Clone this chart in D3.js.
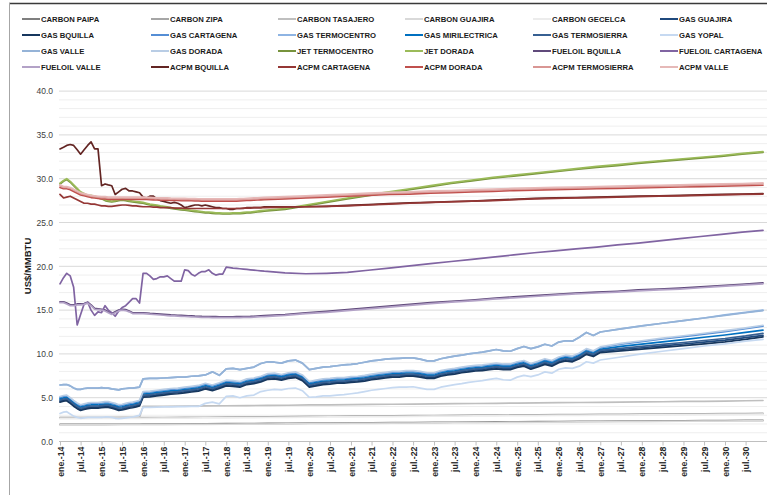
<!DOCTYPE html>
<html><head><meta charset="utf-8">
<script src="https://cdn.jsdelivr.net/npm/d3@7"></script>
<style>
body{margin:0;background:#fff}
svg{display:block}
text{font-family:"Liberation Sans",Arial,sans-serif}
</style></head>
<body><svg id="c" width="767" height="495"></svg>
<script>
// ---------- categories (months since ene-14) ----------
const START = new Date(2014, 0, 1);
const gridM = d3.range(0, 60).concat(d3.range(65, 204, 6));            // monthly 2014-2018, then semiannual
const gridB = d3.range(0, 24).concat(d3.range(24, 157, 2), [162,168,174,180,186,192,198,203]); // gas series
const gridC = [0,6,12,18,23].concat(d3.range(24, 204, 6), [203]);      // carbon series
const tickMonths = d3.range(0, 204, 6);
const tickLabels = ["ene.-14","jul.-14","ene.-15","jul.-15","ene.-16","jul.-16","ene.-17","jul.-17","ene.-18","jul.-18",
"ene.-19","jul.-19","ene.-20","jul.-20","ene.-21","jul.-21","ene.-22","jul.-22","ene.-23","jul.-23","ene.-24","jul.-24",
"ene.-25","jul.-25","ene.-26","jul.-26","ene.-27","jul.-27","ene.-28","jul.-28","ene.-29","jul.-29","ene.-30","jul.-30"];
const yTicks = [0,5,10,15,20,25,30,35,40];

// ---------- series values ----------
const CARBON_PAIPA = [1.95,1.95,1.96,1.97,1.97,1.98,1.99,2.0,2.02,2.03,2.05,2.06,2.08,2.1,2.11,2.13,2.14,2.16,2.17,2.19,2.2,2.22,2.23,2.25,2.26,2.28,2.29,2.31,2.32,2.34,2.35,2.37,2.38,2.4,2.41,2.42];
const CARBON_ZIPA = [2.7,2.7,2.71,2.72,2.72,2.73,2.74,2.75,2.77,2.78,2.8,2.82,2.84,2.86,2.88,2.9,2.92,2.93,2.95,2.97,2.98,3.0,3.01,3.03,3.04,3.06,3.07,3.09,3.1,3.12,3.13,3.15,3.16,3.18,3.19,3.2];
const CARBON_TASAJERO = [2.75,2.75,2.76,2.77,2.77,4.0,4.02,4.04,4.06,4.08,4.1,4.12,4.14,4.17,4.19,4.21,4.23,4.25,4.27,4.3,4.32,4.34,4.36,4.38,4.41,4.43,4.45,4.47,4.5,4.52,4.54,4.57,4.59,4.62,4.65,4.68];
const CARBON_GUAJIRA = [1.89,1.89,1.9,1.91,1.91,1.92,1.93,1.94,1.96,1.97,1.99,2.0,2.02,2.04,2.05,2.07,2.08,2.1,2.11,2.13,2.14,2.16,2.17,2.19,2.2,2.22,2.23,2.25,2.26,2.28,2.29,2.31,2.32,2.34,2.35,2.36];
const CARBON_GECELCA = [2.62,2.62,2.63,2.64,2.64,2.65,2.66,2.67,2.69,2.7,2.72,2.74,2.76,2.78,2.8,2.82,2.84,2.85,2.87,2.89,2.9,2.92,2.93,2.95,2.96,2.98,2.99,3.01,3.02,3.04,3.05,3.07,3.08,3.1,3.11,3.12];

const GAS_GUAJIRA = [4.62,4.73,4.78,4.48,4.16,3.88,3.68,3.78,3.88,3.93,3.93,3.93,3.98,4.03,4.03,3.93,3.83,3.68,3.73,3.83,3.93,3.98,4.08,4.18,
5.18,5.23,5.33,5.43,5.53,5.58,5.68,5.78,5.88,6.13,5.93,6.18,6.48,6.43,6.33,6.63,6.73,6.93,7.23,7.28,
7.13,7.33,7.43,7.08,6.33,6.48,6.63,6.68,6.78,6.78,6.88,6.93,7.03,7.18,7.28,7.38,7.48,7.48,7.58,7.58,
7.48,7.33,7.33,7.58,7.73,7.83,7.98,8.08,8.18,8.23,8.33,8.43,8.33,8.33,8.58,8.73,8.38,8.63,8.93,8.73,
9.13,9.33,9.23,9.58,10.08,9.83,10.28,10.5,10.7,10.92,11.13,11.35,11.57,11.85,12.12];
const GAS_BQUILLA = [4.49,4.6,4.65,4.35,4.03,3.75,3.55,3.65,3.75,3.8,3.8,3.8,3.85,3.9,3.9,3.8,3.7,3.55,3.6,3.7,3.8,3.85,3.95,4.05,
5.05,5.1,5.2,5.3,5.4,5.45,5.55,5.65,5.75,6.0,5.8,6.05,6.35,6.3,6.2,6.5,6.6,6.8,7.1,7.15,
7.0,7.2,7.3,6.95,6.2,6.35,6.5,6.55,6.65,6.65,6.75,6.8,6.9,7.05,7.15,7.25,7.35,7.35,7.45,7.45,
7.35,7.2,7.2,7.45,7.6,7.7,7.85,7.95,8.05,8.1,8.2,8.3,8.2,8.2,8.45,8.6,8.25,8.5,8.8,8.6,
9.0,9.2,9.1,9.45,9.95,9.7,10.15,10.35,10.55,10.75,10.95,11.15,11.37,11.65,11.95];
const GAS_CARTAGENA = [5.04,5.15,5.2,4.9,4.58,4.3,4.1,4.2,4.3,4.35,4.35,4.35,4.4,4.45,4.45,4.35,4.25,4.1,4.15,4.25,4.35,4.4,4.5,4.6,
5.6,5.65,5.75,5.85,5.95,6.0,6.1,6.2,6.3,6.55,6.35,6.6,6.9,6.85,6.75,7.05,7.15,7.35,7.65,7.7,
7.55,7.75,7.85,7.5,6.75,6.9,7.05,7.1,7.2,7.2,7.3,7.35,7.45,7.6,7.7,7.8,7.9,7.9,8.0,8.0,
7.9,7.75,7.75,8.0,8.15,8.25,8.4,8.5,8.6,8.65,8.75,8.85,8.75,8.75,9.0,9.15,8.8,9.05,9.35,9.15,
9.55,9.75,9.65,10.0,10.5,10.25,10.7,11.1,11.4,11.7,11.97,12.26,12.55,12.88,13.17];
const GAS_TERMOCENTRO = [6.45,6.5,6.5,6.35,6.1,5.95,5.95,6.05,6.1,6.1,6.1,6.1,6.15,6.1,6.1,6.0,5.95,5.9,6.0,6.05,6.1,6.1,6.15,6.2,
7.15,7.2,7.2,7.25,7.3,7.35,7.35,7.45,7.5,7.6,7.95,7.55,8.3,8.35,8.2,8.35,8.5,8.9,9.1,9.05,
8.95,9.2,9.3,8.95,8.2,8.35,8.5,8.55,8.65,8.75,8.8,8.9,9.05,9.2,9.3,9.4,9.45,9.5,9.55,9.55,
9.4,9.2,9.2,9.45,9.6,9.75,9.85,10.0,10.1,10.2,10.35,10.5,10.35,10.3,10.6,10.85,10.6,10.8,11.1,10.9,
11.35,11.5,11.45,11.9,12.45,12.1,12.5,12.85,13.2,13.5,13.8,14.1,14.45,14.75,15.0];
const GAS_MIRILECTRICA = [4.86,4.97,5.02,4.72,4.4,4.12,3.92,4.02,4.12,4.17,4.17,4.17,4.22,4.27,4.27,4.17,4.07,3.92,3.97,4.07,4.17,4.22,4.32,4.42,
5.42,5.47,5.57,5.67,5.77,5.82,5.92,6.02,6.12,6.37,6.17,6.42,6.72,6.67,6.57,6.87,6.97,7.17,7.47,7.52,
7.37,7.57,7.67,7.32,6.57,6.72,6.87,6.92,7.02,7.02,7.12,7.17,7.27,7.42,7.52,7.62,7.72,7.72,7.82,7.82,
7.72,7.57,7.57,7.82,7.97,8.07,8.22,8.32,8.42,8.47,8.57,8.67,8.57,8.57,8.82,8.97,8.62,8.87,9.17,8.97,
9.37,9.57,9.47,9.82,10.32,10.07,10.52,10.85,11.12,11.38,11.64,11.9,12.16,12.46,12.72];
const GAS_TERMOSIERRA = [4.74,4.85,4.9,4.6,4.28,4.0,3.8,3.9,4.0,4.05,4.05,4.05,4.1,4.15,4.15,4.05,3.95,3.8,3.85,3.95,4.05,4.1,4.2,4.3,
5.3,5.35,5.45,5.55,5.65,5.7,5.8,5.9,6.0,6.25,6.05,6.3,6.6,6.55,6.45,6.75,6.85,7.05,7.35,7.4,
7.25,7.45,7.55,7.2,6.45,6.6,6.75,6.8,6.9,6.9,7.0,7.05,7.15,7.3,7.4,7.5,7.6,7.6,7.7,7.7,
7.6,7.45,7.45,7.7,7.85,7.95,8.1,8.2,8.3,8.35,8.45,8.55,8.45,8.45,8.7,8.85,8.5,8.75,9.05,8.85,
9.25,9.45,9.35,9.7,10.2,9.95,10.4,10.62,10.85,11.08,11.3,11.53,11.76,12.05,12.35];
const GAS_YOPAL = [3.2,3.35,3.4,3.15,2.9,2.75,2.65,2.7,2.75,2.75,2.75,2.75,2.75,2.8,2.8,2.75,2.65,2.6,2.65,2.7,2.75,2.8,2.9,3.0,
3.9,3.9,3.92,3.95,3.95,3.97,3.97,4.0,4.0,4.35,4.5,4.3,5.15,5.2,5.0,5.2,5.3,5.7,5.85,5.95,
5.9,6.05,6.1,5.8,5.05,5.1,5.2,5.2,5.3,5.35,5.45,5.55,5.7,5.85,5.95,6.05,6.15,6.2,6.2,6.25,
6.1,5.95,5.95,6.2,6.35,6.5,6.6,6.75,6.85,6.95,7.1,7.2,7.05,7.0,7.35,7.55,7.4,7.6,7.95,7.8,
8.25,8.4,8.35,8.6,9.1,8.95,9.3,9.65,10.0,10.3,10.6,10.9,11.15,11.45,11.65];
const GAS_VALLE = [6.45,6.5,6.5,6.35,6.1,5.95,5.95,6.05,6.1,6.1,6.1,6.1,6.15,6.1,6.1,6.0,5.95,5.9,6.0,6.05,6.1,6.1,6.15,6.2,
7.15,7.2,7.2,7.25,7.3,7.35,7.35,7.45,7.5,7.6,7.95,7.55,8.3,8.35,8.2,8.35,8.5,8.9,9.1,9.05,
8.95,9.2,9.3,8.95,8.2,8.35,8.5,8.55,8.65,8.75,8.8,8.9,9.05,9.2,9.3,9.4,9.45,9.5,9.55,9.55,
9.4,9.2,9.2,9.45,9.6,9.75,9.85,10.0,10.1,10.2,10.35,10.5,10.35,10.3,10.6,10.85,10.6,10.8,11.1,10.9,
11.35,11.5,11.45,11.9,12.45,12.1,12.5,12.85,13.2,13.5,13.8,14.1,14.4,14.7,14.95];
const GAS_DORADA = [5.14,5.25,5.3,5.0,4.68,4.4,4.2,4.3,4.4,4.45,4.45,4.45,4.5,4.55,4.55,4.45,4.35,4.2,4.25,4.35,4.45,4.5,4.6,4.7,
5.7,5.75,5.85,5.95,6.05,6.1,6.2,6.3,6.4,6.65,6.45,6.7,7.0,6.95,6.85,7.15,7.25,7.45,7.75,7.8,
7.65,7.85,7.95,7.6,6.85,7.0,7.15,7.2,7.3,7.3,7.4,7.45,7.55,7.7,7.8,7.9,8.0,8.0,8.1,8.1,
8.0,7.85,7.85,8.1,8.25,8.35,8.5,8.6,8.7,8.75,8.85,8.95,8.85,8.85,9.1,9.25,8.9,9.15,9.45,9.25,
9.65,9.85,9.75,10.1,10.6,10.35,10.8,11.2,11.5,11.8,12.07,12.36,12.65,12.98,13.27];

const JET_TERMOCENTRO = [29.4,29.7,29.9,29.6,29.2,28.8,28.4,28.2,28.0,28.0,27.9,27.8,27.7,27.5,27.4,27.35,27.4,27.5,27.55,27.5,27.4,27.35,27.3,27.25,
27.2,27.1,27.0,26.95,26.9,26.8,26.75,26.7,26.6,26.55,26.5,26.45,26.4,26.35,26.3,26.25,26.2,26.15,26.1,26.1,26.05,26.0,26.0,25.97,
25.97,25.97,26.0,26.0,26.0,26.05,26.1,26.1,26.15,26.2,26.25,26.3,
26.5,26.9,27.3,27.7,28.05,28.4,28.75,29.1,29.45,29.75,30.05,30.3,30.55,30.8,31.05,31.3,31.5,31.75,31.95,32.15,32.35,32.55,32.8,33.0];
const JET_DORADA = [29.5,29.8,30.0,29.7,29.3,28.9,28.5,28.3,28.1,28.1,28.0,27.9,27.8,27.6,27.5,27.45,27.5,27.6,27.65,27.6,27.5,27.45,27.4,27.35,
27.3,27.2,27.1,27.05,27.0,26.9,26.85,26.8,26.7,26.65,26.6,26.55,26.5,26.45,26.4,26.35,26.3,26.25,26.2,26.2,26.15,26.1,26.1,26.07,
26.07,26.07,26.1,26.1,26.1,26.15,26.2,26.2,26.25,26.3,26.35,26.4,
26.6,27.0,27.4,27.8,28.15,28.5,28.85,29.2,29.55,29.85,30.15,30.4,30.65,30.9,31.15,31.4,31.6,31.85,32.05,32.25,32.45,32.65,32.9,33.1];

const FUELOIL_BQUILLA = [15.95,15.95,15.8,15.6,15.6,15.7,15.7,15.75,15.9,15.6,15.2,15.15,15.1,15.0,14.8,14.6,14.8,15.0,15.1,15.05,14.9,14.7,14.7,14.7,
14.7,14.67,14.63,14.6,14.57,14.54,14.51,14.48,14.45,14.43,14.41,14.39,14.37,14.35,14.33,14.31,14.3,14.28,14.27,14.26,14.25,14.25,14.24,14.24,
14.24,14.24,14.24,14.25,14.25,14.26,14.27,14.28,14.3,14.32,14.34,14.36,
14.5,14.7,14.85,15.05,15.25,15.45,15.65,15.85,16.0,16.15,16.35,16.5,16.65,16.8,16.95,17.05,17.15,17.3,17.4,17.5,17.65,17.8,17.95,18.1];
const FUELOIL_CARTAGENA = [18.0,18.7,19.2,18.9,17.6,13.3,14.5,15.7,15.9,15.0,14.4,14.8,14.7,15.5,15.0,14.7,14.3,14.9,15.3,15.5,15.9,16.3,16.3,15.8,
19.2,19.2,18.9,18.5,18.6,18.8,18.8,18.9,18.6,18.3,18.3,18.3,19.6,19.5,19.1,18.9,19.2,19.4,19.4,19.6,19.2,19.0,19.1,19.1,
19.9,19.85,19.8,19.76,19.72,19.68,19.64,19.6,19.56,19.52,19.48,19.44,
19.25,19.15,19.2,19.3,19.55,19.8,20.05,20.3,20.55,20.8,21.05,21.3,21.55,21.75,22.0,22.2,22.45,22.65,22.9,23.15,23.4,23.65,23.9,24.1];
const FUELOIL_VALLE = [15.85,15.85,15.7,15.5,15.5,15.6,15.6,15.65,15.8,15.5,15.1,15.05,15.0,14.9,14.7,14.5,14.7,14.9,15.0,14.95,14.8,14.6,14.6,14.6,
14.6,14.57,14.53,14.5,14.47,14.44,14.41,14.38,14.35,14.33,14.31,14.29,14.27,14.25,14.23,14.21,14.2,14.18,14.17,14.16,14.15,14.15,14.14,14.14,
14.14,14.14,14.14,14.15,14.15,14.16,14.17,14.18,14.2,14.22,14.24,14.26,
14.4,14.6,14.75,14.95,15.15,15.35,15.55,15.75,15.9,16.05,16.25,16.4,16.55,16.7,16.85,16.95,17.05,17.2,17.3,17.4,17.55,17.7,17.85,18.0];

const ACPM_BQUILLA = [33.4,33.6,33.8,33.9,33.8,33.3,32.8,33.3,33.8,34.2,33.4,33.4,29.2,29.4,29.3,29.2,28.2,28.5,28.8,28.9,28.6,28.6,28.5,28.4,
27.9,27.8,28.0,28.0,27.7,27.5,27.4,27.3,27.2,27.3,27.2,27.0,26.7,26.8,26.9,27.0,27.0,26.9,27.0,26.9,26.8,26.7,26.7,26.6,
26.6,26.5,26.5,26.6,26.6,26.6,26.7,26.7,26.7,26.7,26.7,26.8,
26.8,26.8,26.85,26.95,27.05,27.15,27.25,27.3,27.4,27.45,27.55,27.65,27.75,27.8,27.85,27.9,27.95,28.0,28.05,28.1,28.15,28.2,28.25,28.3];
const ACPM_CARTAGENA = [28.2,27.8,27.9,28.0,27.8,27.6,27.4,27.2,27.2,27.1,27.1,27.0,26.9,26.9,26.85,26.85,26.9,26.95,27.0,27.0,26.95,26.9,26.9,26.85,
26.8,26.8,26.8,26.75,26.75,26.7,26.7,26.7,26.7,26.65,26.65,26.65,26.6,26.6,26.6,26.6,26.6,26.6,26.6,26.6,26.6,26.6,26.6,26.6,
26.6,26.6,26.6,26.6,26.6,26.65,26.65,26.65,26.7,26.7,26.7,26.7,
26.75,26.8,26.85,26.9,27.0,27.1,27.2,27.3,27.35,27.45,27.5,27.6,27.7,27.75,27.8,27.85,27.9,27.95,28.0,28.05,28.1,28.15,28.2,28.25];
const ACPM_DORADA = [29.0,28.85,28.85,28.75,28.55,28.35,28.15,28.05,27.95,27.85,27.8,27.75,27.7,27.7,27.65,27.65,27.65,27.65,27.65,27.65,27.65,27.65,27.65,27.65,
27.65,27.63,27.61,27.59,27.57,27.55,27.55,27.55,27.53,27.52,27.51,27.5,27.5,27.49,27.48,27.47,27.46,27.45,27.45,27.45,27.45,27.45,27.45,27.45,
27.45,27.45,27.45,27.45,27.47,27.49,27.51,27.53,27.55,27.57,27.59,27.61,
27.7,27.8,27.9,28.0,28.1,28.2,28.25,28.35,28.4,28.5,28.55,28.65,28.7,28.75,28.8,28.85,28.9,28.95,29.0,29.05,29.1,29.15,29.2,29.25];
const ACPM_TERMOSIERRA = [29.2,29.0,29.0,28.9,28.7,28.5,28.3,28.2,28.1,28.0,27.95,27.9,27.85,27.85,27.8,27.8,27.8,27.8,27.8,27.8,27.8,27.8,27.8,27.8,
27.8,27.78,27.76,27.74,27.72,27.7,27.7,27.7,27.68,27.67,27.66,27.65,27.65,27.64,27.63,27.62,27.61,27.6,27.6,27.6,27.6,27.6,27.6,27.6,
27.6,27.6,27.6,27.6,27.62,27.64,27.66,27.68,27.7,27.72,27.74,27.76,
27.85,27.95,28.05,28.15,28.25,28.35,28.4,28.5,28.55,28.65,28.7,28.8,28.85,28.9,28.95,29.0,29.05,29.1,29.15,29.2,29.25,29.3,29.35,29.4];
const ACPM_VALLE = [29.3,29.1,29.1,29.0,28.8,28.6,28.4,28.3,28.2,28.1,28.05,28.0,27.95,27.95,27.9,27.9,27.9,27.9,27.9,27.9,27.9,27.9,27.9,27.9,
27.9,27.88,27.86,27.84,27.82,27.8,27.8,27.8,27.78,27.77,27.76,27.75,27.75,27.74,27.73,27.72,27.71,27.7,27.7,27.7,27.7,27.7,27.7,27.7,
27.7,27.7,27.7,27.7,27.72,27.74,27.76,27.78,27.8,27.82,27.84,27.86,
27.95,28.05,28.15,28.25,28.35,28.45,28.5,28.6,28.65,28.75,28.8,28.9,28.95,29.0,29.05,29.1,29.15,29.2,29.25,29.3,29.35,29.4,29.45,29.52];

const seriesNames = ["CARBON PAIPA","CARBON ZIPA","CARBON TASAJERO","CARBON GUAJIRA","CARBON GECELCA","GAS GUAJIRA",
"GAS BQUILLA","GAS CARTAGENA","GAS TERMOCENTRO","GAS MIRILECTRICA","GAS TERMOSIERRA","GAS YOPAL",
"GAS VALLE","GAS DORADA","JET TERMOCENTRO","JET DORADA","FUELOIL BQUILLA","FUELOIL CARTAGENA",
"FUELOIL VALLE","ACPM BQUILLA","ACPM CARTAGENA","ACPM DORADA","ACPM TERMOSIERRA","ACPM VALLE"];
const seriesColors = ["#7f7f7f","#a6a6a6","#bfbfbf","#d9d9d9","#ececec","#1f497d",
"#17375e","#558ed5","#8eb4e3","#0070c0","#376092","#c6d9f1",
"#95b3d7","#b9cde5","#77933c","#9bbb59","#604a7b","#8064a2",
"#b3a2c7","#632523","#953735","#c0504d","#d99694","#e6b9b8"];
const seriesValues = [CARBON_PAIPA,CARBON_ZIPA,CARBON_TASAJERO,CARBON_GUAJIRA,CARBON_GECELCA,GAS_GUAJIRA,
GAS_BQUILLA,GAS_CARTAGENA,GAS_TERMOCENTRO,GAS_MIRILECTRICA,GAS_TERMOSIERRA,GAS_YOPAL,
GAS_VALLE,GAS_DORADA,JET_TERMOCENTRO,JET_DORADA,FUELOIL_BQUILLA,FUELOIL_CARTAGENA,
FUELOIL_VALLE,ACPM_BQUILLA,ACPM_CARTAGENA,ACPM_DORADA,ACPM_TERMOSIERRA,ACPM_VALLE];
const seriesGrids = [gridC,gridC,gridC,gridC,gridC,gridB,gridB,gridB,gridB,gridB,gridB,gridB,gridB,gridB,
gridM,gridM,gridM,gridM,gridM,gridM,gridM,gridM,gridM,gridM];

// ---------- drawing ----------
const svg = d3.select("#c");
const mdate = i => d3.timeMonth.offset(START, i);
const x = d3.scaleTime().domain([mdate(0), mdate(203)]).range([60, 763]);
const y = d3.scaleLinear().domain([0, 40]).range([441.5, 91.1]);

svg.append("rect").attr("width",767).attr("height",495).attr("fill","#fff");
// frame
svg.append("line").attr("x1",9).attr("x2",767).attr("y1",3.5).attr("y2",3.5).attr("stroke","#3a3a3a").attr("stroke-width",1.5);
svg.append("line").attr("x1",9.5).attr("x2",9.5).attr("y1",3).attr("y2",495).attr("stroke","#a6a6a6").attr("stroke-width",1);

// gridlines
const grid = svg.append("g");
d3.range(1, 41).forEach(v => {
  grid.append("line").attr("x1",59).attr("x2",767).attr("y1",y(v)).attr("y2",y(v))
    .attr("stroke", v % 5 === 0 ? "#d9d9d9" : "#efefef").attr("stroke-width",1);
});

// y axis
const yAxis = svg.append("g").attr("transform","translate(60,0)")
  .call(d3.axisLeft(y).tickValues(yTicks).tickFormat(d3.format(".1f")).tickSize(0).tickPadding(7));
yAxis.select(".domain").remove();
yAxis.selectAll("text").attr("font-size","8.5px").attr("fill","#404040").style("font-family","'Liberation Sans',Arial,sans-serif");

// x axis
const xAxis = svg.append("g").attr("transform",`translate(0,${y(0)})`)
  .call(d3.axisBottom(x).tickValues(tickMonths.map(mdate)).tickFormat((d,i)=>tickLabels[i]).tickSize(4));
xAxis.select(".domain").attr("d",`M59,0H767`).attr("stroke","#bfbfbf");
xAxis.selectAll(".tick line").attr("stroke","#bfbfbf");
xAxis.selectAll("text")
  .attr("transform","rotate(-90)").attr("x",-5).attr("y",0).attr("dy","0.35em")
  .style("text-anchor","end").attr("font-size","8.8px").attr("font-weight","bold").attr("fill","#262626")
  .style("font-family","'Liberation Sans',Arial,sans-serif");

// axis title
svg.append("text").attr("transform","translate(31,266) rotate(-90)").attr("text-anchor","middle")
  .attr("font-size","9.5px").attr("font-weight","bold").attr("fill","#1a1a1a").text("US$/MMBTU");

// lines
const line = d3.line().x(d => x(mdate(d[0]))).y(d => y(d[1]));
const lines = svg.append("g").attr("fill","none").attr("stroke-width",1.7).attr("stroke-linejoin","round").attr("stroke-linecap","round");
seriesNames.forEach((n, k) => {
  const pts = seriesGrids[k].map((m, j) => [m, seriesValues[k][j]]);
  lines.append("path").attr("d", line(pts)).attr("stroke", seriesColors[k]);
});

// legend
const legCols = [22,151,278,405,533,660];
const legRows = [19,35,51,67];
const leg = svg.append("g");
seriesNames.forEach((n, k) => {
  const cx = legCols[k % 6], cy = legRows[Math.floor(k / 6)];
  leg.append("line").attr("x1",cx).attr("x2",cx+18).attr("y1",cy).attr("y2",cy)
    .attr("stroke",seriesColors[k]).attr("stroke-width",2);
  leg.append("text").attr("x",cx+19).attr("y",cy).attr("dy","0.35em")
    .attr("font-size","7.7px").attr("font-weight","bold").attr("fill","#1a1a1a").text(n);
});
</script>
</body></html>
